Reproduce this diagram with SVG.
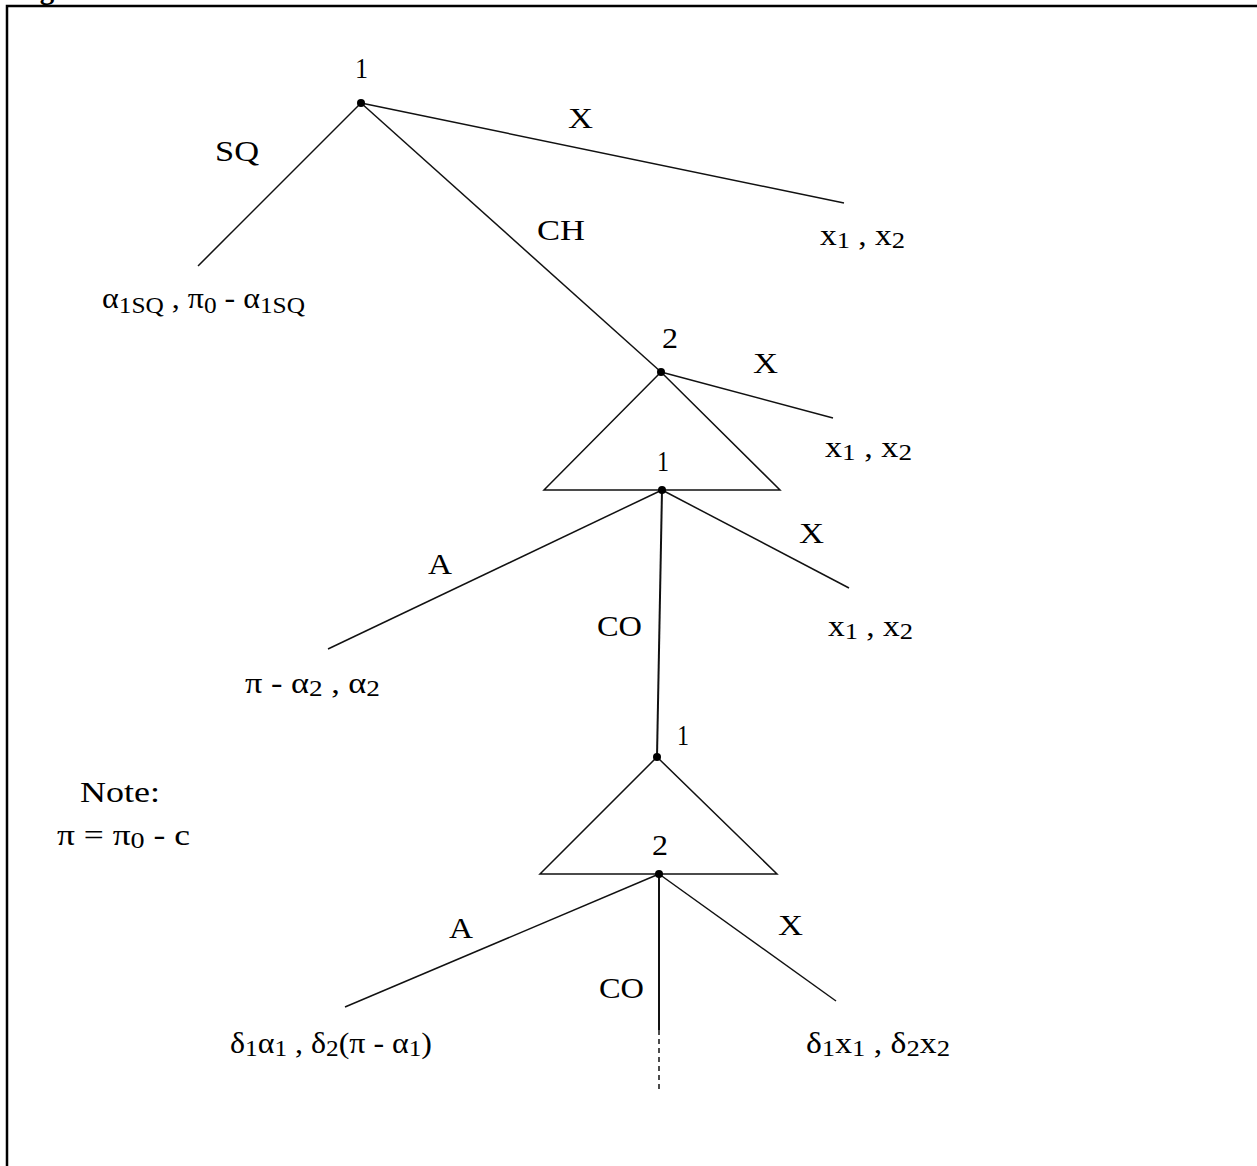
<svg xmlns="http://www.w3.org/2000/svg" width="1257" height="1166" viewBox="0 0 1257 1166">
<style>
.t{font-family:"Liberation Serif","Times New Roman",serif;font-size:29px;fill:#000}
.s{font-size:23px}
.e{stroke:#111;stroke-width:1.5;fill:none}
.v{stroke:#111;stroke-width:2;fill:none}
.dot{fill:#000}
</style>
<rect width="1257" height="1166" fill="#fff"/>
<g id="frame">
<path d="M7,1166 V6 H1257" stroke="#000" stroke-width="2.5" fill="none"/>
<text class="t" x="14" y="-1" font-weight="bold">Figure</text>
</g>
<g id="connectors">
<line class="e" x1="361" y1="103" x2="198" y2="266"/>
<line class="e" x1="361" y1="103" x2="844" y2="203"/>
<line class="e" x1="361" y1="103" x2="661" y2="372"/>
<line class="e" x1="661" y1="372" x2="833" y2="418"/>
<path class="e" d="M661,372 L544,490 H780 Z"/>
<line class="e" x1="662" y1="490" x2="328" y2="649"/>
<line class="e" x1="662" y1="490" x2="849" y2="588"/>
<line class="v" x1="662" y1="490" x2="657" y2="757"/>
<path class="e" d="M657,757 L540,874 H777 Z"/>
<line class="e" x1="659" y1="874" x2="345" y2="1007"/>
<line class="e" x1="659" y1="874" x2="836" y2="1001"/>
<line class="v" x1="659" y1="874" x2="659" y2="1030"/>
<line class="e" x1="659" y1="1030" x2="659" y2="1092" stroke-dasharray="5,4"/>
</g>
<g id="n1">
<circle class="dot" cx="361" cy="103" r="4"/>
<text class="t" x="355" y="78" textLength="13" lengthAdjust="spacingAndGlyphs">1</text>
</g>
<g id="n2">
<circle class="dot" cx="661" cy="372" r="4"/>
<text class="t" x="662" y="348" textLength="16" lengthAdjust="spacingAndGlyphs">2</text>
</g>
<g id="n3">
<circle class="dot" cx="662" cy="490" r="4"/>
<text class="t" x="657" y="471" textLength="12" lengthAdjust="spacingAndGlyphs">1</text>
</g>
<g id="n4">
<circle class="dot" cx="657" cy="757" r="4"/>
<text class="t" x="677" y="745" textLength="12" lengthAdjust="spacingAndGlyphs">1</text>
</g>
<g id="n5">
<circle class="dot" cx="659" cy="874" r="4"/>
<text class="t" x="652" y="855" textLength="16" lengthAdjust="spacingAndGlyphs">2</text>
</g>
<g id="edge-labels">
<text class="t" x="215" y="161" textLength="44" lengthAdjust="spacingAndGlyphs">SQ</text>
<text class="t" x="568" y="128" textLength="25" lengthAdjust="spacingAndGlyphs">X</text>
<text class="t" x="537" y="240" textLength="48" lengthAdjust="spacingAndGlyphs">CH</text>
<text class="t" x="753" y="373" textLength="25" lengthAdjust="spacingAndGlyphs">X</text>
<text class="t" x="428" y="574" textLength="24" lengthAdjust="spacingAndGlyphs">A</text>
<text class="t" x="799" y="543" textLength="25" lengthAdjust="spacingAndGlyphs">X</text>
<text class="t" x="597" y="636" textLength="45" lengthAdjust="spacingAndGlyphs">CO</text>
<text class="t" x="449" y="938" textLength="24" lengthAdjust="spacingAndGlyphs">A</text>
<text class="t" x="778" y="935" textLength="25" lengthAdjust="spacingAndGlyphs">X</text>
<text class="t" x="599" y="998" textLength="45" lengthAdjust="spacingAndGlyphs">CO</text>
</g>
<g id="payoff-sq">
<text class="t" x="102" y="308" textLength="203" lengthAdjust="spacingAndGlyphs">α<tspan class="s" dy="5">1SQ</tspan><tspan dy="-5"> , π</tspan><tspan class="s" dy="5">0</tspan><tspan dy="-5"> - α</tspan><tspan class="s" dy="5">1SQ</tspan></text>
</g>
<g id="payoff-x1">
<text class="t" x="820" y="245" textLength="85" lengthAdjust="spacingAndGlyphs">x<tspan class="s" dy="3">1</tspan><tspan dy="-3"> , x</tspan><tspan class="s" dy="3">2</tspan></text>
</g>
<g id="payoff-x2">
<text class="t" x="825" y="457" textLength="87" lengthAdjust="spacingAndGlyphs">x<tspan class="s" dy="3">1</tspan><tspan dy="-3"> , x</tspan><tspan class="s" dy="3">2</tspan></text>
</g>
<g id="payoff-x3">
<text class="t" x="828" y="636" textLength="85" lengthAdjust="spacingAndGlyphs">x<tspan class="s" dy="3">1</tspan><tspan dy="-3"> , x</tspan><tspan class="s" dy="3">2</tspan></text>
</g>
<g id="payoff-a1">
<text class="t" x="245" y="693" textLength="135" lengthAdjust="spacingAndGlyphs">π - α<tspan class="s" dy="3">2</tspan><tspan dy="-3"> , α</tspan><tspan class="s" dy="3">2</tspan></text>
</g>
<g id="payoff-a2">
<text class="t" x="230" y="1053" textLength="202" lengthAdjust="spacingAndGlyphs">δ<tspan class="s" dy="3">1</tspan><tspan dy="-3">α</tspan><tspan class="s" dy="3">1</tspan><tspan dy="-3"> , δ</tspan><tspan class="s" dy="3">2</tspan><tspan dy="-3">(π - α</tspan><tspan class="s" dy="3">1</tspan><tspan dy="-3">)</tspan></text>
</g>
<g id="payoff-x4">
<text class="t" x="806" y="1053" textLength="144" lengthAdjust="spacingAndGlyphs">δ<tspan class="s" dy="3">1</tspan><tspan dy="-3">x</tspan><tspan class="s" dy="3">1</tspan><tspan dy="-3"> , δ</tspan><tspan class="s" dy="3">2</tspan><tspan dy="-3">x</tspan><tspan class="s" dy="3">2</tspan></text>
</g>
<g id="note">
<text class="t" x="80" y="802" textLength="80" lengthAdjust="spacingAndGlyphs">Note:</text>
<text class="t" x="57" y="845" textLength="133" lengthAdjust="spacingAndGlyphs">π = π<tspan class="s" dy="3">0</tspan><tspan dy="-3"> - c</tspan></text>
</g>
</svg>
